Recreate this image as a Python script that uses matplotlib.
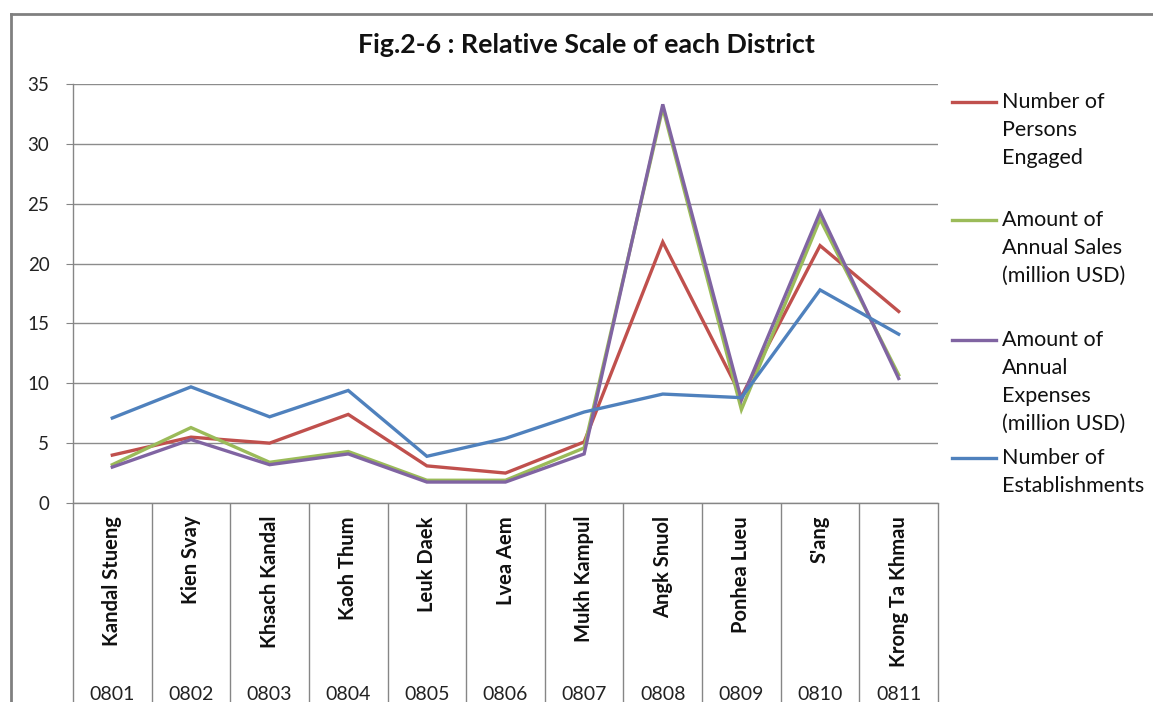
import numpy as np
import matplotlib.pyplot as plt
from matplotlib.lines import Line2D

plt.rcParams['font.family'] = ['Lato', 'DejaVu Sans']

codes = ['0801', '0802', '0803', '0804', '0805', '0806', '0807', '0808', '0809', '0810', '0811']
districts = ['Kandal Stueng', 'Kien Svay', 'Khsach Kandal', 'Kaoh Thum', 'Leuk Daek', 'Lvea Aem',
             'Mukh Kampul', 'Angk Snuol', 'Ponhea Lueu', "S'ang", 'Krong Ta Khmau']

persons = [4.0, 5.5, 5.0, 7.4, 3.1, 2.5, 5.1, 21.8, 8.9, 21.5, 16.0]
sales = [3.2, 6.3, 3.4, 4.3, 1.9, 1.9, 4.6, 33.0, 7.8, 23.7, 10.7]
expenses = [3.0, 5.3, 3.2, 4.1, 1.75, 1.75, 4.1, 33.3, 8.6, 24.3, 10.4]
establishments = [7.1, 9.7, 7.2, 9.4, 3.9, 5.4, 7.6, 9.1, 8.8, 17.8, 14.1]

labels = ['Number of\nPersons\nEngaged',
          'Amount of\nAnnual Sales\n(million USD)',
          'Amount of\nAnnual\nExpenses\n(million USD)',
          'Number of\nEstablishments']
colors = ['#C0504D', '#9BBB59', '#8064A2', '#4F81BD']

W, H = 1153, 702
fig = plt.figure(figsize=(W / 100, H / 100), dpi=100)
ax = fig.add_axes([73 / W, 1 - 503 / H, (938 - 73) / W, (503 - 84) / H])

x = np.arange(len(codes)) + 0.5
series = [persons, sales, expenses, establishments]
for vals, c in zip(series, colors):
    ax.plot(x, vals, color=c, lw=2.4, solid_joinstyle='miter')

ax.set_xlim(0, len(codes))
ax.set_ylim(0, 35)
ax.set_yticks(range(0, 36, 5))
ax.tick_params(axis='y', labelsize=13.5, length=5, color='#868686', pad=12, labelcolor='#222222')
ax.yaxis.grid(True, color='#8c8c8c', lw=1)
ax.set_axisbelow(True)
for s in ['top', 'right']:
    ax.spines[s].set_visible(False)
for s in ['left', 'bottom']:
    ax.spines[s].set_color('#868686')
    ax.spines[s].set_linewidth(1)
ax.set_xticks([])

# category boxes under the axis
xt = ax.get_xaxis_transform()
ax.vlines(np.arange(len(codes) + 1), 0, -0.5, transform=xt, color='#868686', lw=1, clip_on=False)
for xi, name, code in zip(x, districts, codes):
    ax.text(xi, -13 / 419, name, transform=xt, rotation=90, ha='center', va='top',
            fontsize=14.5, fontweight='bold', color='#111111')
    ax.text(xi, -(686 - 503) / 419, code, transform=xt, ha='center', va='top',
            fontsize=14, color='#222222', fontstretch='condensed')

fig.text(586 / W, 1 - 45 / H, 'Fig.2-6 : Relative Scale of each District', ha='center', va='center',
         fontsize=19.3, fontweight='bold', color='#111111')

# legend
leg_y = [102, 220, 340, 458]
for ly, lab, c in zip(leg_y, labels, colors):
    fig.add_artist(Line2D([952 / W, 996 / W], [1 - ly / H, 1 - ly / H], color=c, lw=2.4))
    fig.text(1002 / W, 1 - (ly - 10) / H, lab, ha='left', va='top', fontsize=15.5,
             linespacing=1.5, color='#111111')

# outer frame
fig.add_artist(Line2D([11 / W, 1.0], [1 - 14 / H, 1 - 14 / H], color='#808080', lw=2))
fig.add_artist(Line2D([11 / W, 11 / W], [0, 1 - 14 / H], color='#808080', lw=2))

fig.savefig('out.png', dpi=100)
